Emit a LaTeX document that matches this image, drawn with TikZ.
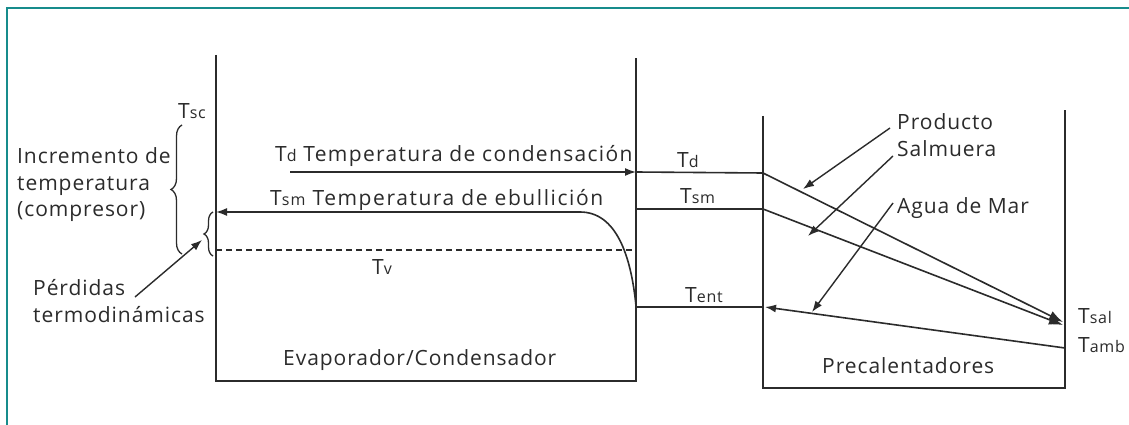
\documentclass[tikz,border=0pt]{standalone}
\usepackage{fontspec}
\setmainfont{Open Sans}[LetterSpace=4.5]
\newfontfamily\widefont{Open Sans}[LetterSpace=7.5]
\newfontfamily\midfont{Open Sans}[LetterSpace=6.3]
\usetikzlibrary{arrows.meta,decorations.pathreplacing}
\definecolor{frameteal}{HTML}{178C8C}
\definecolor{ink}{HTML}{2B2B2B}
\newcommand{\tsub}[1]{{\fontsize{16}{16}\selectfont #1}}
\begin{document}
\begin{tikzpicture}[x=1pt,y=-1pt,
  lbl/.style={inner sep=0pt, anchor=base west, font=\fontsize{21}{27}\selectfont, text=ink},
  widelbl/.style={lbl, font=\fontsize{21}{27}\widefont},
  midlbl/.style={lbl, font=\fontsize{21}{27}\midfont},
  wall/.style={draw=ink, line width=2pt},
  flow/.style={draw=ink, line width=1.6pt},
  pointer/.style={draw=ink, line width=1.4pt, -{Latex[length=11pt,width=8pt]}},
  tip/.style={-{Latex[length=11pt,width=8pt]}},
  bigtip/.style={-{Latex[length=14pt,width=10pt]}},
  bracestyle/.style={draw=ink, line width=1.3pt, decorate},
]
\useasboundingbox (0,0) rectangle (1129,425);
\fill[white] (0,0) rectangle (1129,425);
% frame
\draw[frameteal, line width=2.2pt] (7,425) -- (7,8) -- (1129,8);

% evaporator box
\coordinate (evTL) at (216,55);
\coordinate (evBL) at (216,381);
\coordinate (evBR) at (636,381);
\coordinate (evTR) at (636,58);
\draw[wall] (evTL) -- (evBL) -- (evBR) -- (evTR);

% preheater box
\coordinate (prTL) at (763,116);
\coordinate (prBL) at (763,388);
\coordinate (prBR) at (1065,388);
\coordinate (prTR) at (1065,110);
\draw[wall] (prTL) -- (prBL) -- (prBR) -- (prTR);

% Td line
\coordinate (tdA) at (290,172);
\coordinate (tdB) at (636,172);
\coordinate (tdC) at (763,173);
\coordinate (tsalA) at (1063,322);
\draw[flow,tip] (tdA) -- (tdB);
\draw[flow] (tdB) -- (tdC);
\draw[flow,bigtip] (tdC) -- (tsalA);

% Tsm line (right)
\coordinate (smB) at (636,209);
\coordinate (smC) at (763,209);
\coordinate (tsalB) at (1063,325);
\draw[flow] (smB) -- (smC);
\draw[flow,bigtip] (smC) -- (tsalB);

% Tsm line (evaporator) and ebullition curve
\coordinate (ebC) at (580,212);
\coordinate (tsmL) at (216,212);
\coordinate (entL) at (636,306);
\draw[flow,tip] (ebC) -- (tsmL);
\draw[flow] (ebC) .. controls (616,212) and (631,255) .. (entL);

% Tv dashed
\coordinate (tvA) at (216,250);
\coordinate (tvB) at (632,250);
\draw[draw=ink, line width=1.5pt, dash pattern=on 6pt off 4pt] (tvA) -- (tvB);

% Tent / Tamb
\coordinate (tamb) at (1065,348);
\coordinate (entR) at (765,307);
\coordinate (entM) at (763,307);
\draw[flow,tip] (tamb) -- (entR);
\draw[flow] (entM) -- (entL |- entM);

% braces
\coordinate (bbB) at (182,254);
\coordinate (bbT) at (182,125);
\draw[bracestyle, decoration={brace, amplitude=11pt}] (bbB) -- (bbT);
\coordinate (sbB) at (213,256);
\coordinate (sbT) at (213,212);
\draw[bracestyle, decoration={brace, amplitude=9pt}] (sbB) -- (sbT);
\coordinate (sbTip) at (202,240);

% labels
\node[lbl] (tsc) at (178,118) {T\tsub{sc}};
\node[lbl] (inc1) at (17,163) {Incremento de};
\node[lbl] (inc2) at (17,190) {temperatura};
\node[lbl] (inc3) at (17,216) {(compresor)};
\node[lbl] (per1) at (33,295) {Pérdidas};
\node[lbl] (per2) at (33,322) {termodinámicas};
\node[midlbl] (tdlab) at (275,161) {T\tsub{d} Temperatura de condensación};
\node[widelbl] (tsmlab) at (270,205) {T\tsub{sm} Temperatura de ebullición};
\node[lbl] (tv) at (372,274) {T\tsub{v}};
\node[lbl] (evap) at (283,365) {Evaporador/Condensador};
\node[lbl] (td2) at (677,167) {T\tsub{d}};
\node[lbl] (tsm2) at (680,203) {T\tsub{sm}};
\node[lbl] (tent) at (685,302) {T\tsub{ent}};
\node[lbl] (prod) at (897,129) {Producto};
\node[lbl] (salm) at (897,157) {Salmuera};
\node[lbl] (agua) at (897,213) {Agua de Mar};
\node[lbl] (tsal) at (1078,323) {T\tsub{sal}};
\node[lbl] (tambl) at (1078,352) {T\tsub{amb}};
\node[lbl] (prec) at (822,373) {Precalentadores};

% pointer arrows
\coordinate (perS) at (135,297);
\draw[pointer] (perS) -- (sbTip);
\coordinate (prodS) at (890,128);
\coordinate (prodE) at (803,189);
\draw[pointer] (prodS) -- (prodE);
\coordinate (salmS) at (893,156);
\coordinate (salmE) at (808,236);
\draw[pointer] (salmS) -- (salmE);
\coordinate (aguaS) at (893,203);
\coordinate (aguaE) at (812,312);
\draw[pointer] (aguaS) -- (aguaE);
\end{tikzpicture}
\end{document}
